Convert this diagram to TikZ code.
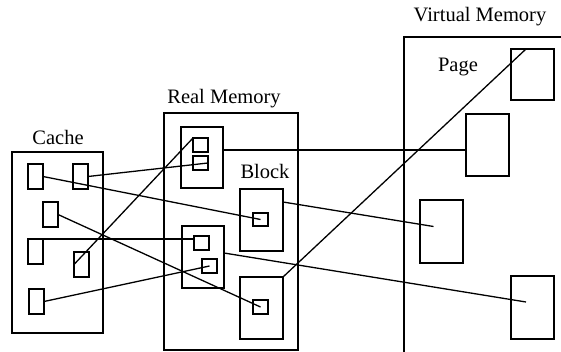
\documentclass[tikz,border=0pt]{standalone}
\usepackage{fontspec}
\setmainfont{Liberation Serif}
\begin{document}
\begin{tikzpicture}[x=1pt,y=-1pt,
  box/.style={draw,line width=1.5pt,inner sep=0pt,outer sep=0pt},
  small/.style={box,minimum width=15pt,minimum height=25pt},
  tiny/.style={box,minimum width=15pt,minimum height=14pt},
  mid/.style={box,minimum width=42pt,minimum height=62pt},
  link/.style={line width=1.3pt},
  lbl/.style={font=\fontsize{20.5}{24}\selectfont,inner sep=0pt}]
\useasboundingbox (0,0) rectangle (561,352);
% labels
\node[lbl] (lcache) at (58,137) {Cache};
\node[lbl] (lreal) at (224,99) {Real Memory};
\node[lbl] (lvirt) at (480,17) {Virtual Memory};
\node[lbl] (lpage) at (458,67) {Page};
\node[lbl] (lblock) at (265,171) {Block};
% cache
\node[box,minimum width=91pt,minimum height=181pt] (cache) at (57.5,242.5) {};
\node[small] (c1) at (35.5,176.5) {};
\node[small] (c2) at (80.5,176.5) {};
\node[small] (c3) at (50.5,214.5) {};
\node[small] (c4) at (35.5,251.5) {};
\node[small] (c5) at (81.5,264.5) {};
\node[small] (c6) at (36.5,301.5) {};
% real memory
\node[box,minimum width=134pt,minimum height=237pt] (rm) at (231,231.5) {};
\node[mid,minimum height=61pt] (r1) at (202,157.5) {};
\node[tiny] (sa) at (200.5,145) {};
\node[tiny] (sb) at (200.5,163) {};
\node[mid,minimum width=43pt] (b1) at (261.5,220) {};
\node[tiny,minimum height=13pt] (s1) at (260.5,219.5) {};
\node[mid] (r2) at (203,257) {};
\node[tiny] (sc) at (201.5,243) {};
\node[tiny] (sd) at (209.5,266) {};
\node[mid,minimum width=43pt] (b2) at (261.5,308) {};
\node[tiny] (s2) at (260.5,307) {};
% virtual memory
\coordinate (vmbl) at (404,352);
\coordinate (vmtl) at (404,37);
\coordinate (vmtr) at (561,37);
\draw[box] (vmbl) -- (vmtl) -- (vmtr);
\node[mid,minimum width=43pt,minimum height=51pt] (p1) at (532.5,74.5) {};
\node[mid,minimum width=43pt] (p2) at (487.5,145) {};
\node[mid,minimum width=43pt,minimum height=63pt] (p3) at (441.5,231.5) {};
\node[mid,minimum width=43pt,minimum height=63pt] (p4) at (532.5,307.5) {};
% connectors
\draw[link] (c2.east) -- (sb.east);
\draw[link] (c1.east) -- (s1.center);
\draw[link] (c3.east) -- (s2.center);
\draw[link] (c4.north east) -- (c4.north east -| sc.west);
\draw[link] (c5.west) -- (sa.north west);
\draw[link] (c6.east) -- (sd.center);
\draw[link] ([yshift=7.5pt]r1.east) -- ([yshift=7.5pt]r1.east -| p2.west);
\draw[link] ([yshift=-13pt]b1.north east) -- ([xshift=-8pt,yshift=5pt]p3.center);
\draw[link] ([yshift=4pt]r2.east) -- ([xshift=-6.5pt,yshift=5.5pt]p4.center);
\draw[link] (b2.north east) -- ([xshift=-6.5pt]p1.north);
\end{tikzpicture}
\end{document}
